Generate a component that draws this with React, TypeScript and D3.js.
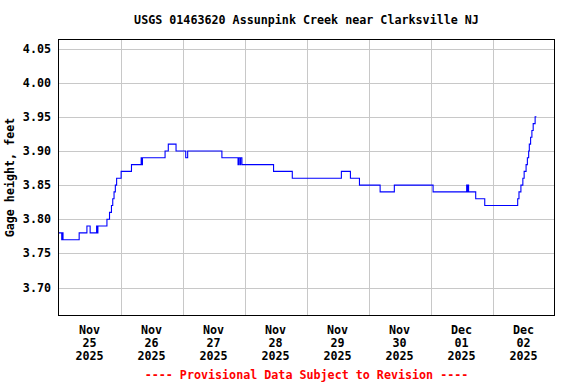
import { curveStepAfter, line, range, scaleLinear, scaleTime, timeFormat } from "d3";

const title = "USGS 01463620 Assunpink Creek near Clarksville NJ";
const yLabel = "Gage height, feet";
const footnote = "---- Provisional Data Subject to Revision ----";

const yTicks = [3.7, 3.75, 3.8, 3.85, 3.9, 3.95, 4.0, 4.05];
const dayStart = new Date(2025, 10, 25);
const dayEnd = new Date(2025, 11, 3);

// gage height readings at the times the value changed (local time, 2025)
const readings: [string, number][] = [
  ["11-25 00:00", 3.78],
  ["11-25 01:15", 3.77],
  ["11-25 01:30", 3.78],
  ["11-25 01:45", 3.77],
  ["11-25 08:00", 3.78],
  ["11-25 11:00", 3.79],
  ["11-25 12:15", 3.78],
  ["11-25 14:45", 3.79],
  ["11-25 15:00", 3.78],
  ["11-25 15:15", 3.79],
  ["11-25 18:45", 3.8],
  ["11-25 19:45", 3.81],
  ["11-25 20:30", 3.82],
  ["11-25 21:00", 3.83],
  ["11-25 21:30", 3.84],
  ["11-25 22:00", 3.85],
  ["11-25 22:30", 3.86],
  ["11-26 00:15", 3.87],
  ["11-26 04:15", 3.88],
  ["11-26 08:00", 3.89],
  ["11-26 08:15", 3.88],
  ["11-26 08:30", 3.89],
  ["11-26 17:15", 3.9],
  ["11-26 18:30", 3.91],
  ["11-26 21:30", 3.9],
  ["11-27 01:15", 3.89],
  ["11-27 02:00", 3.9],
  ["11-27 15:15", 3.89],
  ["11-27 21:30", 3.88],
  ["11-27 21:45", 3.89],
  ["11-27 22:15", 3.88],
  ["11-27 22:30", 3.89],
  ["11-27 23:00", 3.88],
  ["11-28 11:15", 3.87],
  ["11-28 18:30", 3.86],
  ["11-29 13:30", 3.87],
  ["11-29 17:00", 3.86],
  ["11-29 20:30", 3.85],
  ["11-30 04:30", 3.84],
  ["11-30 10:00", 3.85],
  ["12-01 01:00", 3.84],
  ["12-01 14:00", 3.85],
  ["12-01 14:15", 3.84],
  ["12-01 14:30", 3.85],
  ["12-01 14:45", 3.84],
  ["12-01 17:30", 3.83],
  ["12-01 21:00", 3.82],
  ["12-02 09:45", 3.83],
  ["12-02 10:15", 3.84],
  ["12-02 11:00", 3.85],
  ["12-02 11:45", 3.86],
  ["12-02 12:15", 3.87],
  ["12-02 13:00", 3.88],
  ["12-02 13:30", 3.89],
  ["12-02 14:00", 3.9],
  ["12-02 14:15", 3.91],
  ["12-02 14:45", 3.92],
  ["12-02 15:15", 3.93],
  ["12-02 15:45", 3.94],
  ["12-02 16:30", 3.95],
  ["12-02 17:00", 3.95],
];

const parseReading = (s: string) => {
  const [md, hm] = s.split(" ");
  const [m, d] = md.split("-").map(Number);
  const [h, min] = hm.split(":").map(Number);
  return new Date(2025, m - 1, d, h, min);
};

const W = 576;
const H = 384;
const frame = { left: 58.5, right: 554.5, top: 39.5, bottom: 315.5 };
const font = "'DejaVu Sans Mono', 'Liberation Mono', monospace";
const fs = 11.7;

export default function App() {
  const x = scaleTime().domain([dayStart, dayEnd]).range([frame.left, frame.right]);
  const y = scaleLinear().domain([3.659, 4.0632]).range([frame.bottom, frame.top]);

  const days = range(8).map((i) => new Date(2025, 10, 25 + i));
  const fmtMon = timeFormat("%b");
  const fmtDay = timeFormat("%d");
  const fmtYear = timeFormat("%Y");

  const pts: [number, number][] = readings.map(([t, v]) => [x(parseReading(t)), y(v)]);
  const path = line().curve(curveStepAfter)(pts) || "";

  const cx = (frame.left + frame.right) / 2;

  return (
    <svg
      width={W}
      height={H}
      style={{ position: "absolute", left: 0, top: 0, background: "#fff" }}
      fontFamily={font}
      fontWeight="bold"
      fontSize={fs}
    >
      <rect width={W} height={H} fill="#fff" />
      <text x={cx} y={24} textAnchor="middle" fill="#000">
        {title}
      </text>

      {/* grid */}
      {yTicks.map((t) => (
        <line
          key={t}
          x1={frame.left}
          x2={frame.right}
          y1={Math.round(y(t)) + 0.5}
          y2={Math.round(y(t)) + 0.5}
          stroke="#c8c8c8"
        />
      ))}
      {days.slice(1).map((d, i) => (
        <line
          key={i}
          x1={Math.round(x(d)) + 0.5}
          x2={Math.round(x(d)) + 0.5}
          y1={frame.top}
          y2={frame.bottom}
          stroke="#c8c8c8"
        />
      ))}

      <path d={path} fill="none" stroke="#0000ff" strokeWidth={1.1} />

      <rect
        x={frame.left}
        y={frame.top}
        width={frame.right - frame.left}
        height={frame.bottom - frame.top}
        fill="none"
        stroke="#000"
      />

      {/* y labels */}
      {yTicks.map((t) => (
        <text key={t} x={51} y={y(t) + 4} textAnchor="end" fill="#000">
          {t.toFixed(2)}
        </text>
      ))}
      <text
        transform={`translate(14, ${(frame.top + frame.bottom) / 2}) rotate(-90)`}
        textAnchor="middle"
        fill="#000"
      >
        {yLabel}
      </text>

      {/* x labels at mid-day */}
      {days.map((d, i) => {
        const mid = x(new Date(d.getTime() + 12 * 3600 * 1000));
        return (
          <text key={i} x={mid} textAnchor="middle" fill="#000">
            <tspan x={mid} y={334}>{fmtMon(d)}</tspan>
            <tspan x={mid} y={347}>{fmtDay(d)}</tspan>
            <tspan x={mid} y={360}>{fmtYear(d)}</tspan>
          </text>
        );
      })}

      <text x={cx} y={379} textAnchor="middle" fill="#ff0000">
        {footnote}
      </text>
    </svg>
  );
}
